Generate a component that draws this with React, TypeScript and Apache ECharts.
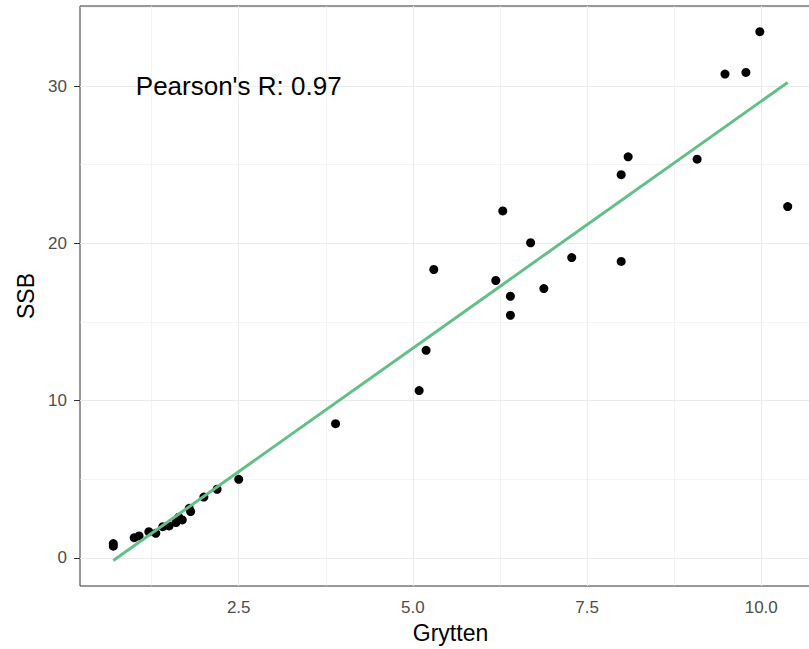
import React, { useEffect, useRef } from "react";
import * as echarts from "echarts";

// Observed points: Grytten (x) vs SSB (y)
const grytten = [
  0.7, 0.7, 1.0, 1.07, 1.21, 1.31, 1.41, 1.5, 1.6, 1.64, 1.69, 1.79, 1.81, 2.0, 2.19, 2.5,
  3.89, 5.09, 5.19, 5.3, 6.19, 6.29, 6.4, 6.4, 6.69, 6.88, 7.28, 7.99, 7.99, 8.09, 9.08,
  9.48, 9.78, 9.98, 10.38,
];
const ssb = [
  0.92, 0.75, 1.29, 1.4, 1.67, 1.57, 1.99, 2.04, 2.25, 2.59, 2.42, 3.16, 2.95, 3.87, 4.37, 5.0,
  8.54, 10.64, 13.2, 18.34, 17.64, 22.06, 16.64, 15.43, 20.04, 17.13, 19.1, 24.37, 18.85, 25.5, 25.35,
  30.76, 30.87, 33.46, 22.34,
];

// Linear fit line end points
const fitX = [0.7, 10.38];
const fitY = [-0.16, 30.23];

// Axis ticks
const xTicks = [2.5, 5.0, 7.5, 10.0];
const xMinor = [1.25, 3.75, 6.25, 8.75];
const yTicks = [0, 10, 20, 30];
const yMinor = [5, 15, 25, 35];

const annotationText = "Pearson's R: 0.97";
const annotationPos = [2.5, 30];

const X_MIN = 0.222;
const X_MAX = 10.858;
const Y_MIN = -1.78;
const Y_MAX = 35.09;

const FONT = "'Liberation Sans', Arial, Helvetica, sans-serif";

export default function App() {
  const ref = useRef<HTMLDivElement>(null);

  useEffect(() => {
    if (!ref.current) return;
    const chart = echarts.init(ref.current, undefined, { renderer: "svg" });

    const points = grytten.map((x, i) => [x, ssb[i]]);
    const fit = fitX.map((x, i) => [x, fitY[i]]);

    const major = { color: "#EBEBEB", width: 1.1, type: "solid" as const };
    const minor = { color: "#EBEBEB", width: 0.55, type: "solid" as const };

    const gridLines = [
      ...xMinor.map((v) => ({ xAxis: v, lineStyle: minor })),
      ...yMinor.map((v) => ({ yAxis: v, lineStyle: minor })),
      ...xTicks.map((v) => ({ xAxis: v, lineStyle: major })),
      ...yTicks.map((v) => ({ yAxis: v, lineStyle: major })),
    ];

    chart.setOption({
      animation: false,
      backgroundColor: "#FFFFFF",
      textStyle: { fontFamily: FONT },
      grid: {
        left: 80,
        top: 6,
        width: 741,
        height: 580,
        show: true,
        borderColor: "#333333",
        borderWidth: 1,
        backgroundColor: "#FFFFFF",
        containLabel: false,
      },
      xAxis: {
        type: "value",
        min: X_MIN,
        max: X_MAX,
        axisLine: { show: false },
        axisTick: {
          show: true,
          customValues: xTicks,
          length: 6,
          lineStyle: { color: "#333333", width: 1 },
        },
        axisLabel: {
          customValues: xTicks,
          formatter: (v: number) => v.toFixed(1),
          color: "#4D4D4D",
          fontSize: 17,
          margin: 13,
          fontFamily: FONT,
        },
        splitLine: { show: false },
        name: "Grytten",
        nameLocation: "middle",
        nameGap: 35,
        nameTextStyle: { fontSize: 23, color: "#000000", fontFamily: FONT },
      },
      yAxis: {
        type: "value",
        min: Y_MIN,
        max: Y_MAX,
        axisLine: { show: false },
        axisTick: {
          show: true,
          customValues: yTicks,
          length: 6,
          lineStyle: { color: "#333333", width: 1 },
        },
        axisLabel: {
          customValues: yTicks,
          formatter: (v: number) => String(v),
          color: "#4D4D4D",
          fontSize: 17,
          margin: 13,
          fontFamily: FONT,
        },
        splitLine: { show: false },
        name: "SSB",
        nameLocation: "middle",
        nameGap: 43,
        nameRotate: 90,
        nameTextStyle: { fontSize: 23, color: "#000000", fontFamily: FONT },
      },
      series: [
        {
          type: "scatter",
          data: [],
          z: 1,
          silent: true,
          markLine: {
            silent: true,
            z: 1,
            symbol: ["none", "none"],
            label: { show: false },
            emphasis: { disabled: true },
            data: gridLines,
          },
        },
        {
          type: "scatter",
          data: points,
          symbol: "circle",
          symbolSize: 9,
          itemStyle: { color: "#000000", opacity: 1 },
          z: 3,
          silent: true,
        },
        {
          type: "line",
          data: fit,
          showSymbol: false,
          lineStyle: { color: "#63BF88", width: 3, opacity: 1 },
          z: 4,
          silent: true,
        },
        {
          type: "scatter",
          data: [annotationPos],
          symbolSize: 0,
          z: 5,
          silent: true,
          itemStyle: { opacity: 1 },
          label: {
            show: true,
            position: "inside",
            formatter: () => annotationText,
            color: "#000000",
            opacity: 1,
            fontSize: 26,
            fontFamily: FONT,
          },
        },
      ],
    });

    return () => {
      chart.dispose();
    };
  }, []);

  return (
    <div
      style={{
        position: "absolute",
        left: 0,
        top: 0,
        width: 809,
        height: 649,
        overflow: "hidden",
      }}
    >
      <div ref={ref} style={{ width: 840, height: 649 }} />
    </div>
  );
}
